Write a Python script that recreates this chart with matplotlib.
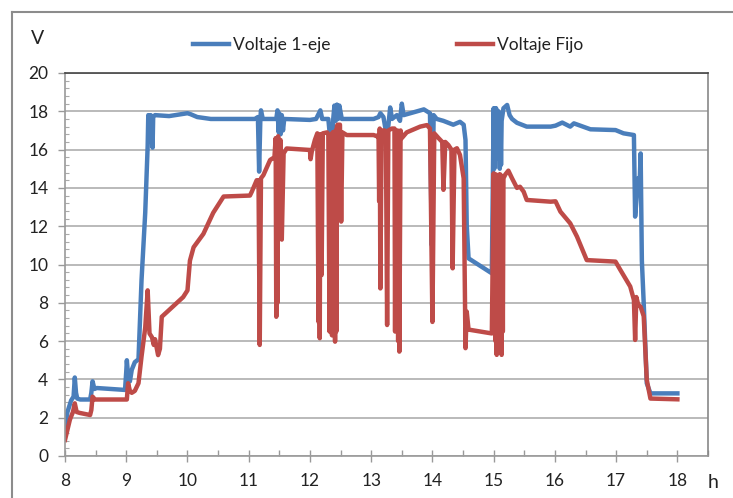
import matplotlib
matplotlib.use("Agg")
import matplotlib.pyplot as plt
from matplotlib.lines import Line2D
from matplotlib.ticker import MultipleLocator

plt.rcParams['font.family'] = ['Lato', 'DejaVu Sans']

# Voltaje 1-eje (hora, voltios)
blue_t = [8.00, 8.04, 8.10, 8.14, 8.16, 8.18, 8.20, 8.25, 8.41, 8.43, 8.45, 8.48, 8.52, 8.98,
          9.00, 9.01, 9.03, 9.06, 9.09, 9.14, 9.20, 9.25, 9.31, 9.35, 9.36, 9.38, 9.40, 9.42,
          9.43, 9.44, 9.47, 9.70, 10.00, 10.05, 10.16, 10.38, 11.10, 11.15, 11.17, 11.19, 11.20,
          11.23, 11.45, 11.47, 11.49, 11.50, 11.52, 11.54, 11.56, 11.58, 12.00, 12.10, 12.17,
          12.20, 12.30, 12.36, 12.38, 12.40, 12.42, 12.44, 12.46, 12.48, 12.52, 13.04, 13.12,
          13.15, 13.20, 13.26, 13.31, 13.34, 13.42, 13.47, 13.50, 13.53, 13.86, 13.96, 13.99,
          14.02, 14.07, 14.18, 14.26, 14.34, 14.45, 14.51, 14.54, 14.56, 14.59, 14.97,
          15.00, 15.01, 15.02, 15.03, 15.04, 15.06, 15.08, 15.10, 15.11, 15.12, 15.13, 15.16,
          15.22, 15.26, 15.30, 15.38, 15.54,
          15.93, 16.01, 16.12, 16.25, 16.31, 16.58, 16.99, 17.12, 17.29, 17.31, 17.36, 17.38,
          17.40, 17.42, 17.45, 17.50, 17.56, 18.00]
blue_v = [1.5, 2.3, 2.9, 3.1, 4.1, 3.3, 3.0, 2.95, 2.95, 3.3, 3.9, 3.5, 3.55, 3.45,
          4.4, 5.0, 4.2, 3.9, 4.5, 4.9, 5.05, 9.2, 12.7, 16.2, 17.8, 17.2, 17.8, 16.4,
          16.1, 17.7, 17.8, 17.75, 17.9, 17.85, 17.7, 17.6, 17.6, 17.7, 14.85, 17.6, 18.05,
          17.6, 17.6, 18.05, 16.9, 17.9, 16.8, 17.8, 17.0, 17.6, 17.55, 17.6, 18.05,
          17.6, 17.6, 15.6, 17.6, 18.3, 17.5, 18.35, 17.6, 18.3, 17.6, 17.6, 17.7,
          17.9, 17.7, 16.6, 18.2, 17.6, 17.8, 17.5, 18.4, 17.8, 18.1, 17.9, 11.0,
          17.8, 17.6, 17.5, 17.4, 17.3, 17.45, 17.3, 16.5, 12.06, 10.32, 9.54,
          18.16, 15.0, 18.16, 15.5, 18.16, 15.8, 18.0, 15.0, 17.8, 15.2, 17.5, 18.16,
          18.33, 17.8, 17.6, 17.4, 17.2,
          17.2, 17.25, 17.41, 17.2, 17.37, 17.06, 17.02, 16.85, 16.76, 12.5, 14.5, 13.9,
          15.8, 10.2, 8.0, 3.8, 3.27, 3.27]

# Voltaje Fijo (hora, voltios)
red_t = [8.00, 8.08, 8.13, 8.16, 8.19, 8.24, 8.41, 8.43, 8.45, 8.49, 9.01, 9.03, 9.06, 9.09,
         9.14, 9.20, 9.25, 9.31, 9.35, 9.38, 9.42, 9.45, 9.47, 9.52, 9.55, 9.58, 9.93, 10.00,
         10.04, 10.10, 10.26, 10.42, 10.59, 11.02, 11.05, 11.13, 11.16, 11.18, 11.20, 11.24,
         11.35, 11.42, 11.44, 11.45, 11.46, 11.47, 11.48, 11.50, 11.52, 11.54, 11.57, 11.62,
         12.00, 12.01, 12.03, 12.08,
         12.12, 12.14, 12.15, 12.16, 12.17, 12.19, 12.21,
         12.28, 12.30, 12.32, 12.33, 12.34, 12.35, 12.36, 12.37, 12.38, 12.39, 12.40, 12.41,
         12.42, 12.43, 12.44, 12.45, 12.49, 12.51, 12.53, 12.60, 13.04, 13.09,
         13.12, 13.13, 13.14, 13.15, 13.17, 13.22, 13.24, 13.26, 13.28, 13.34,
         13.38, 13.39, 13.40, 13.42, 13.43, 13.44, 13.45, 13.46, 13.48,
         13.50, 13.58, 13.80, 13.91, 13.96, 14.00, 14.03, 14.10,
         14.16, 14.18, 14.21, 14.26, 14.31, 14.33, 14.36, 14.40, 14.45, 14.51, 14.54, 14.56,
         14.59, 14.97,
         15.00, 15.01, 15.02, 15.03, 15.04, 15.05, 15.06, 15.08, 15.09, 15.10, 15.11, 15.13,
         15.14, 15.15, 15.16, 15.19,
         15.24, 15.30, 15.38, 15.43, 15.49, 15.54, 15.93, 16.01, 16.09, 16.25, 16.36, 16.52,
         16.99, 17.07, 17.23, 17.29, 17.31, 17.33, 17.36, 17.40, 17.45, 17.50, 17.56, 18.00]
red_v = [0.84, 1.9, 2.3, 2.75, 2.3, 2.25, 2.14, 2.4, 3.1, 2.95, 2.95, 3.8, 3.4, 3.3,
         3.4, 3.8, 5.2, 6.7, 8.65, 6.4, 6.2, 5.8, 6.1, 5.27, 5.6, 7.27, 8.3, 8.65,
         10.2, 10.9, 11.6, 12.7, 13.55, 13.6, 13.8, 14.4, 14.4, 5.8, 14.5, 14.67,
         15.46, 15.6, 16.6, 7.27, 16.0, 8.0, 16.7, 12.5, 16.5, 11.3, 15.8, 16.06,
         15.98, 15.5, 15.9, 16.5,
         16.85, 7.0, 16.5, 6.15, 16.8, 9.45, 16.85,
         16.9, 16.8, 6.5, 16.5, 8.0, 16.5, 6.3, 16.9, 7.0, 16.9, 12.76, 5.97,
         17.0, 6.5, 17.2, 17.3, 17.3, 12.24, 16.9, 16.76, 16.76, 16.7,
         16.76, 13.3, 17.1, 8.75, 17.0, 17.0, 16.8, 6.84, 17.0, 17.1,
         17.1, 6.5, 17.0, 8.0, 17.0, 6.0, 16.8, 5.45, 17.0,
         16.6, 16.9, 17.2, 17.28, 17.1, 7.0, 16.85, 16.6,
         16.4, 13.9, 16.4, 16.24, 16.0, 9.8, 16.0, 16.07, 15.72, 14.5, 5.63, 7.54,
         6.6, 6.4,
         14.76, 7.0, 14.7, 6.0, 14.7, 5.28, 14.6, 6.0, 14.7, 7.5, 14.7, 5.28,
         14.5, 6.5, 14.5, 14.7,
         14.9, 14.5, 14.0, 14.06, 13.8, 13.37, 13.28, 13.3, 12.76, 12.15, 11.46, 10.23,
         10.15, 9.71, 8.85, 8.15, 6.06, 8.3, 7.9, 7.79, 7.3, 3.98, 3.0, 2.96]

x_ticks = [8, 9, 10, 11, 12, 13, 14, 15, 16, 17, 18]
y_ticks = [0, 2, 4, 6, 8, 10, 12, 14, 16, 18, 20]

blue = '#4A7EBB'
red = '#BE4B48'

fig = plt.figure(figsize=(7.33, 4.98), dpi=100)
ax = fig.add_axes([65 / 733, 1 - 456 / 498, 643 / 733, 383 / 498])

ax.plot(blue_t, blue_v, color=blue, lw=3.2, label='Voltaje 1-eje', solid_joinstyle='round')
ax.plot(red_t, red_v, color=red, lw=3.2, label='Voltaje Fijo', solid_joinstyle='round')

ax.set_xlim(8, 18.5)
ax.set_ylim(0, 20)
ax.set_xticks(x_ticks)
ax.set_yticks(y_ticks)
ax.xaxis.set_minor_locator(MultipleLocator(0.5))
ax.yaxis.set_minor_locator(MultipleLocator(0.4))
ax.grid(axis='y', which='major', color='#b4b4b4', lw=1.3)
ax.set_axisbelow(True)

ax.tick_params(axis='x', which='major', direction='inout', length=8, width=1, color='#999999',
               labelsize=12.5, labelcolor='#222222', pad=8)
ax.tick_params(axis='x', which='minor', direction='in', length=4, width=1, color='#999999')
ax.tick_params(axis='y', which='major', direction='out', length=5, width=1, color='#999999',
               labelsize=12.5, labelcolor='#222222', pad=7)
ax.tick_params(axis='y', which='minor', direction='in', length=3, width=0.8, color='#aaaaaa')

ax.spines['top'].set_color('#444444')
ax.spines['right'].set_color('#888888')
ax.spines['left'].set_color('#999999')
ax.spines['bottom'].set_color('#999999')
for s in ax.spines.values():
    s.set_linewidth(1.2)

ax.legend(loc='center', bbox_to_anchor=(0.502, 1.073), ncol=2, frameon=False,
          fontsize=12.5, handlelength=2.1, handletextpad=0.2, columnspacing=7.3,
          borderpad=0, labelcolor='#222222')

fig.text(37.5 / 733, 1 - 38.5 / 498, 'V', fontsize=14, ha='center', va='center', color='#222222')
fig.text(713 / 733, 1 - 482 / 498, 'h', fontsize=14, ha='center', va='center', color='#222222')

# marco exterior
fig.add_artist(Line2D([12 / 733, 12 / 733], [0, 1 - 12 / 498], color='#8c8c8c', lw=1.5))
fig.add_artist(Line2D([12 / 733, 1], [1 - 12 / 498, 1 - 12 / 498], color='#8c8c8c', lw=1.5))

fig.savefig('out.png', dpi=100)
